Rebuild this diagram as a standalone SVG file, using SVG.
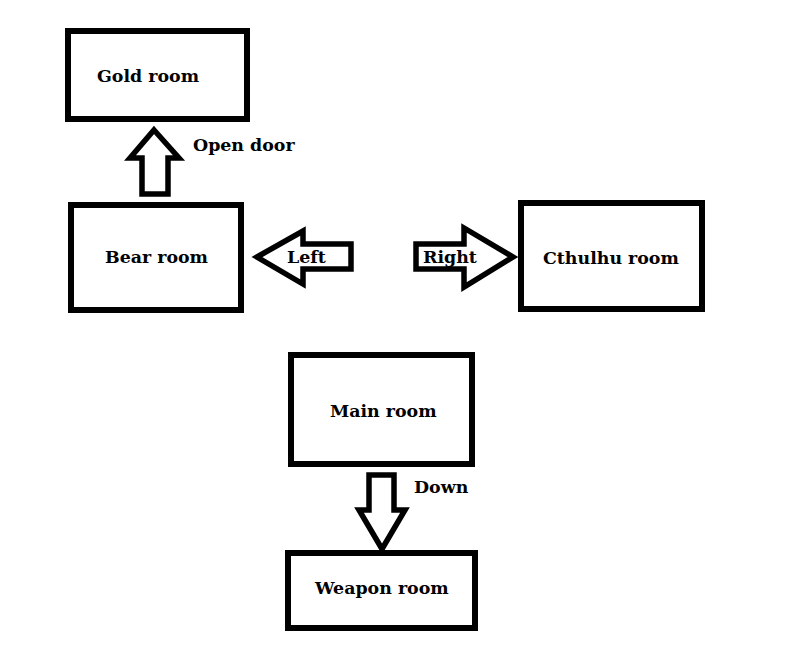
<svg xmlns="http://www.w3.org/2000/svg" width="786" height="669" viewBox="0 0 786 669">
<style>
.box{fill:#fff;stroke:#000;stroke-width:6}
.arr{fill:#fff;stroke:#000;stroke-width:5.5;stroke-linejoin:miter;stroke-miterlimit:10}
text{font-family:"DejaVu Serif","Liberation Serif",serif;font-weight:bold;font-size:17.4px;fill:#000}
</style>
<rect width="786" height="669" fill="#fff"/>
<g id="gold-room"><rect class="box" x="68" y="31" width="179" height="88"/><text x="97" y="82">Gold room</text></g>
<g id="bear-room"><rect class="box" x="71" y="205" width="170" height="105"/><text x="105" y="263">Bear room</text></g>
<g id="cthulhu-room"><rect class="box" x="521" y="203" width="181" height="106"/><text x="543" y="264">Cthulhu room</text></g>
<g id="main-room"><rect class="box" x="291" y="355" width="181" height="109"/><text x="330" y="417">Main room</text></g>
<g id="weapon-room"><rect class="box" x="288" y="553" width="187" height="75"/><text x="315" y="594">Weapon room</text></g>
<g id="connectors">
<polygon class="arr" points="154,130 179,158 168,158 168,194 142,194 142,158 130,158"/>
<text x="193" y="151">Open door</text>
<polygon class="arr" points="257,257 303,231 303,244 351,244 351,269 303,269 303,284"/>
<text x="287" y="263">Left</text>
<polygon class="arr" points="416,244 464,244 464,228 513,257 464,287 464,269 416,269"/>
<text x="423" y="263">Right</text>
<polygon class="arr" points="369,475 394,475 394,510 405,510 382,549 359,510 369,510"/>
<text x="414" y="493">Down</text>
</g>
</svg>
